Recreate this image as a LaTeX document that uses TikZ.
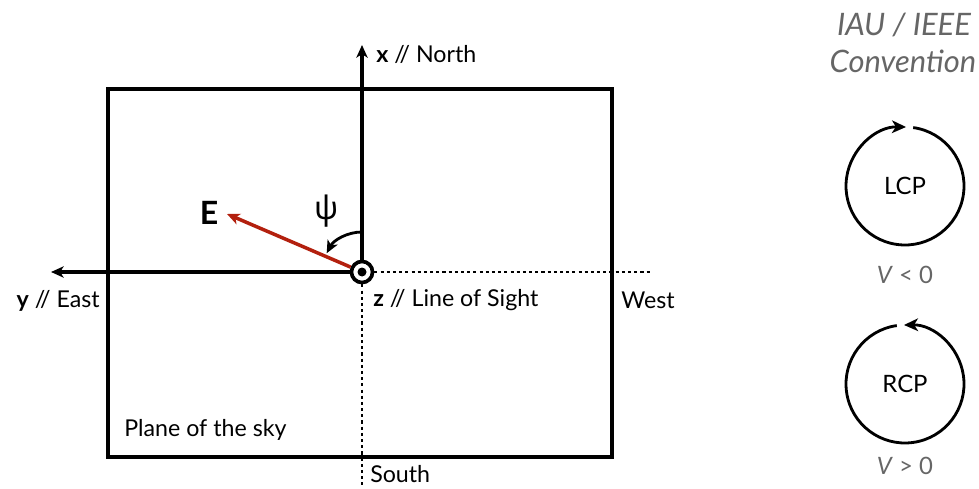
\documentclass[tikz,border=0pt]{standalone}
\usepackage{fontspec}
\setmainfont{Lato}
\newfontfamily\greekfont{Noto Sans}
\usepackage{tikz}
\usetikzlibrary{positioning, calc, arrows.meta}

\begin{document}
\begin{tikzpicture}[x=0.025cm, y=0.025cm,
  >={Stealth[length=9pt, width=8pt, inset=2.5pt]},
  axis/.style={->, line width=2.5pt},
  guide/.style={line width=1.2pt, dash pattern=on 2.2pt off 2.2pt},
  lbl/.style={inner sep=0pt, font=\fontsize{16.5}{19}\selectfont},
  conv/.style={inner sep=0pt, text=cinza, font=\itshape\fontsize{22}{26}\selectfont},
  polname/.style={inner sep=0pt, font=\fontsize{17}{20}\selectfont},
  polsign/.style={inner sep=0pt, text=cinza, font=\fontsize{17}{20}\selectfont},
  helix/.style={->, >={Stealth[length=10pt, width=9pt, inset=2.8pt]}, line width=2pt}]
% --- PLANO DO CEU E CONVENCAO IAU ---
\definecolor{vetorE}{HTML}{B3200E}
\definecolor{cinza}{HTML}{666666}
\useasboundingbox (0,0) rectangle (979,488);

% LAYER 1: Plane of the sky
\draw[line width=2.8pt] (108,31) rectangle (612,399);
\node[lbl, anchor=west] (plane) at (124,58) {Plane of the sky};

% LAYER 2: Origin and axes
\coordinate (O) at (362,216);
\coordinate (xtip) at (362,443);
\coordinate (ytip) at (51,216);
\coordinate (westend) at (650,216);
\coordinate (southend) at (362,1);
\node[circle, draw, fill=white, line width=2.6pt, minimum size=15pt, inner sep=0pt] (zmark) at (O) {};
\fill (O) circle (4.5);
\draw[axis] (zmark) -- (xtip);
\draw[axis] (zmark) -- (ytip);
\draw[guide] (zmark) -- (westend);
\draw[guide] (zmark) -- (southend);
\node[lbl, anchor=west] (xlab) at (376,434) {\textbf{x} // North};
\node[lbl, anchor=east] (ylab) at (100,187) {\textbf{y} // East};
\node[lbl, anchor=west] (zlab) at (373,188) {\textbf{z} // Line of Sight};
\node[lbl, anchor=west] (west) at (621,188) {West};
\node[lbl, anchor=west] (south) at (370,14) {South};

% LAYER 3: Vector E and angle psi
\coordinate (Etip) at (227,274);
\draw[->, line width=2.5pt, color=vetorE] (zmark) -- (Etip);
\node[inner sep=0pt, font=\bfseries\fontsize{22.8}{26}\selectfont] (Elab) at (209,275) {E};
\draw[->, line width=2pt] ([shift={(90:40)}]O) arc[start angle=90, end angle=152, radius=40];
\node[inner sep=0pt, font=\greekfont\fontsize{23}{26}\selectfont] (psi) at (327,277) {ψ};

% LAYER 4: IAU / IEEE convention
\node[conv] (iau) at (904,463) {IAU / IEEE};
\node[conv] (convention) at (903,427) {Convention};
\node[polname] (lcp) at (905,302) {LCP};
\draw[helix] ([shift={(82:59)}]lcp.center) arc[start angle=82, end angle=-271, radius=59];
\node[polsign] (vneg) at (905,213) {\textit{V} < 0};
\node[polname] (rcp) at (905,104) {RCP};
\draw[helix] ([shift={(98:59)}]rcp.center) arc[start angle=98, end angle=451, radius=59];
\node[polsign] (vpos) at (905,22) {\textit{V} > 0};
\end{tikzpicture}
\end{document}
